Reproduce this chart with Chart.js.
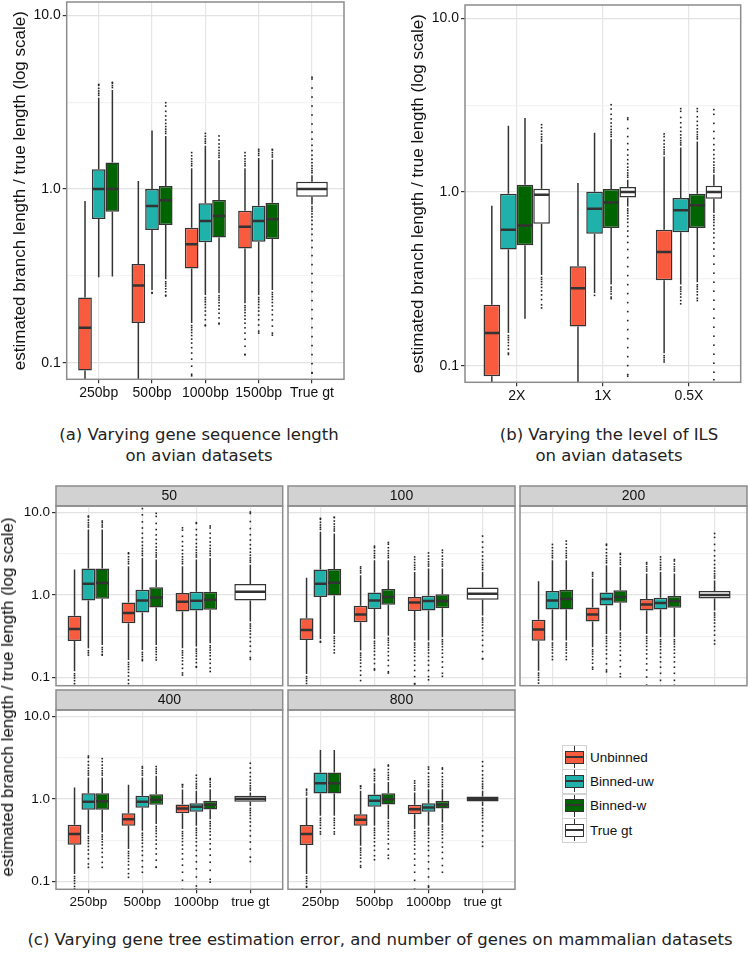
<!DOCTYPE html>
<html>
<head>
<meta charset="utf-8">
<script src="https://cdn.jsdelivr.net/npm/chart.js@4.4.1/dist/chart.umd.min.js"></script>
<style>
  html, body { margin: 0; padding: 0; background: #fff; }
  body { position: relative; width: 749px; height: 959px; overflow: hidden; font-family: 'Liberation Sans', Arial, sans-serif; }
  canvas { position: absolute; }
  .caption { position: absolute; font-family: 'DejaVu Sans', sans-serif; font-size: 16.5px; line-height: 21px; color: #222; text-align: center; white-space: nowrap; transform: translateX(-50%); }
  #ytitleC { position: absolute; left: 8px; top: 697px; font-size: 17px; line-height: 20px; color: #111; white-space: nowrap; transform: translate(-50%, -50%) rotate(-90deg); }
  .cell { position: absolute; left: 562px; width: 25px; height: 25px; box-sizing: border-box; border: 1.5px solid #d3d3d3; }
  .whisk { position: absolute; left: 10.5px; top: 0; width: 1.5px; height: 22px; background: #333; }
  .swatch { position: absolute; left: 1.5px; top: 4.5px; width: 19px; height: 13px; box-sizing: border-box; border: 1.5px solid #333; }
  .med { position: absolute; left: 0; right: 0; top: 4px; height: 2px; background: #333; }
  .lab { position: absolute; left: 590px; font-size: 13.5px; line-height: 16px; color: #111; white-space: nowrap; }
</style>
</head>
<body>
<canvas id="pa"></canvas>
<canvas id="pb"></canvas>
<canvas id="c50"></canvas>
<canvas id="c100"></canvas>
<canvas id="c200"></canvas>
<canvas id="c400"></canvas>
<canvas id="c800"></canvas>
<div class="caption" style="left:199px; top:424px;">(a) Varying gene sequence length<br>on avian datasets</div>
<div class="caption" style="left:609px; top:424px;">(b) Varying the level of ILS<br>on avian datasets</div>
<div class="caption" style="left:380px; top:929px;">(c) Varying gene tree estimation error, and number of genes on mammalian datasets</div>
<div id="ytitleC">estimated branch length / true length (log scale)</div>
<div id="legend"></div>
<script>
// Methods shown in every panel and their fill colours
const methods = ['Unbinned', 'Binned-uw', 'Binned-w', 'True gt'];
const methodColors = ['#F95B3F', '#20B2AA', '#006400', '#FFFFFF'];

const yTitle = 'estimated branch length / true length (log scale)';
const yTickValues = [0.1, 1, 10];
const yTickText = ['0.1', '1.0', '10.0'];
const yMinorValues = [0.3162, 3.162];

// Each box: [lower whisker, q1, median, q3, upper whisker, lowest outlier, highest outlier]

// (a) gene sequence length, avian
const catsA = ['250bp', '500bp', '1000bp', '1500bp', 'True gt'];
const aUnbinned = [
  [0.07, 0.090, 0.159, 0.237, 0.853, null, null],
  [0.07, 0.169, 0.278, 0.370, 1.11, null, null],
  [0.169, 0.348, 0.480, 0.599, 1.316, 0.084, 1.62],
  [0.220, 0.455, 0.607, 0.750, 1.316, 0.111, 1.62]
];
const aBinnedUw = [
  [0.310, 0.672, 1.00, 1.30, 3.35, null, 4.0],
  [0.262, 0.581, 0.798, 1.00, 2.17, 0.251, null],
  [0.245, 0.493, 0.654, 0.827, 1.775, 0.163, 2.09],
  [0.245, 0.497, 0.654, 0.800, 1.51, 0.148, 1.69]
];
const aBinnedW = [
  [0.313, 0.74, 1.00, 1.42, 3.71, null, 4.11],
  [0.302, 0.62, 0.861, 1.04, 2.02, 0.242, 3.14],
  [0.251, 0.525, 0.699, 0.864, 1.47, 0.167, 2.02],
  [0.262, 0.515, 0.669, 0.834, 1.48, 0.144, 1.69]
];
const aTrueGt = [[0.815, 0.903, 1.00, 1.10, 1.2, 0.087, 4.4]];

// (b) level of ILS, avian
const catsB = ['2X', '1X', '0.5X'];
const bUnbinned = [
  [0.075, 0.0868, 0.154, 0.2245, 0.834, null, null],
  [0.07, 0.168, 0.279, 0.373, 1.127, null, null],
  [0.118, 0.31, 0.451, 0.607, 1.60, 0.105, 2.16]
];
const bBinnedUw = [
  [0.154, 0.466, 0.607, 0.978, 2.41, 0.116, null],
  [0.262, 0.575, 0.80, 1.004, 2.19, 0.254, null],
  [0.293, 0.586, 0.784, 0.924, 1.806, 0.227, 3.02]
];
const bBinnedW = [
  [0.186, 0.493, 0.642, 1.10, 2.67, null, null],
  [0.293, 0.621, 0.871, 1.04, 2.02, 0.243, 3.18],
  [0.302, 0.621, 0.838, 0.978, 1.956, 0.237, 3.02]
];
const bTrueGt = [
  [0.333, 0.657, 0.965, 1.045, 1.897, 0.215, 2.44],
  [0.826, 0.931, 1.0, 1.07, 1.177, 0.087, 2.67],
  [0.757, 0.915, 1.0, 1.087, 1.26, 0.083, 2.98]
];

// (c) estimation error x number of genes, mammalian; outer index = facet
const catsC = ['250bp', '500bp', '1000bp', 'true gt'];
const facetsC = ['50', '100', '200', '400', '800'];
const cUnbinned = [
  [[0.12, 0.279, 0.39, 0.561, 2.03, 0.075, null], [0.164, 0.457, 0.605, 0.815, 2.23, 0.085, 3.24], [0.227, 0.634, 0.83, 1.06, 2.23, 0.108, 6.5]],
  [[0.111, 0.287, 0.379, 0.526, 1.62, 0.078, null], [0.213, 0.47, 0.582, 0.742, 1.73, 0.079, 2.19], [0.282, 0.64, 0.815, 0.946, 1.9, 0.084, 2.89]],
  [[0.122, 0.281, 0.383, 0.502, 1.47, 0.08, null], [0.234, 0.479, 0.582, 0.708, 1.58, 0.127, 1.87], [0.339, 0.651, 0.77, 0.894, 1.82, 0.08, 2.47]],
  [[0.123, 0.278, 0.375, 0.486, 1.37, 0.081, null], [0.247, 0.472, 0.568, 0.671, 1.48, 0.112, null], [0.43, 0.671, 0.764, 0.854, 1.3, 0.078, 1.49]],
  [[0.123, 0.276, 0.375, 0.481, 1.04, 0.085, 1.31], [0.271, 0.472, 0.558, 0.653, 1.25, 0.148, 1.43], [0.43, 0.653, 0.75, 0.846, 1.19, 0.08, 1.65]]
];
const cBinnedUw = [
  [[0.227, 0.861, 1.37, 2.09, 6.2, 0.188, 9.02], [0.217, 0.616, 0.861, 1.16, 2.81, 0.161, 11.1], [0.238, 0.651, 0.853, 1.1, 2.69, 0.134, 7.5]],
  [[0.295, 0.946, 1.37, 2.03, 5.82, 0.269, 8.45], [0.295, 0.676, 0.861, 1.077, 2.64, 0.124, 3.9], [0.282, 0.651, 0.845, 0.98, 2.09, 0.0945, 3.23]],
  [[0.282, 0.67, 0.861, 1.12, 2.64, 0.166, 4.09], [0.339, 0.749, 0.894, 1.077, 2.29, 0.118, 4.12], [0.309, 0.67, 0.80, 0.928, 1.9, 0.08, 2.89]],
  [[0.375, 0.736, 0.92, 1.17, 1.81, 0.148, 3.3], [0.411, 0.779, 0.92, 1.087, 1.81, 0.129, 2.46], [0.472, 0.697, 0.80, 0.887, 1.25, 0.081, 1.93]],
  [[0.623, 1.16, 1.55, 2.08, 3.9, 0.375, null], [0.472, 0.80, 0.946, 1.13, 1.55, 0.183, 2.28], [0.472, 0.697, 0.786, 0.887, 1.31, 0.085, 2.43]]
];
const cBinnedW = [
  [[0.249, 0.903, 1.40, 2.09, 6.2, 0.188, 7.85], [0.249, 0.708, 0.937, 1.24, 2.69, 0.164, 9.72], [0.261, 0.663, 0.878, 1.1, 2.81, 0.119, 6.83]],
  [[0.339, 0.99, 1.41, 2.07, 5.55, 0.20, 8.7], [0.323, 0.763, 0.946, 1.18, 2.64, 0.114, 4.32], [0.309, 0.695, 0.845, 1.02, 2.09, 0.104, 3.49]],
  [[0.282, 0.67, 0.894, 1.16, 2.64, 0.166, 4.49], [0.372, 0.807, 0.946, 1.14, 2.19, 0.103, 3.18], [0.309, 0.702, 0.845, 0.972, 1.82, 0.081, 2.69]],
  [[0.392, 0.736, 0.937, 1.17, 1.81, 0.148, 3.07], [0.495, 0.846, 0.973, 1.14, 1.9, 0.148, 2.46], [0.568, 0.743, 0.846, 0.946, 1.31, 0.098, 1.76]],
  [[0.623, 1.16, 1.55, 2.08, 3.9, 0.375, null], [0.568, 0.854, 0.99, 1.17, 1.6, 0.19, 2.57], [0.518, 0.764, 0.846, 0.946, 1.31, 0.129, 2.37]]
];
const cTrueGt = [
  [0.479, 0.861, 1.1, 1.36, 2.33, 0.167, 10.1],
  [0.566, 0.878, 1.04, 1.23, 1.9, 0.169, 5.16],
  [0.65, 0.91, 1.0, 1.12, 1.5, 0.256, 5.55],
  [0.82, 0.92, 1.0, 1.087, 1.19, 0.174, 2.7],
  [0.82, 0.929, 1.0, 1.067, 1.25, 0.266, 2.82]
];

const Y_MIN = 0.0802;
const Y_MAX = 11.93;
const FONT = "'Liberation Sans', Arial, sans-serif";
const BOX_FRAC = 0.77;

// Column of outlier dots, dense near the whisker and thinning out
function dotColumn(ctx, x, yStart, yEnd) {
  const dir = yEnd < yStart ? -1 : 1;
  let y = yStart + dir * 2.5;
  let gap = 2;
  while ((yEnd - y) * dir > 0) {
    ctx.fillRect(x - 0.8, y - 0.8, 1.6, 1.6);
    y += dir * gap;
    gap = Math.min(gap * 1.15, 9);
  }
  ctx.fillRect(x - 0.8, yEnd - 0.8, 1.6, 1.6);
}

// Whiskers, outliers and medians drawn around the floating bars
function drawParts(chart, layer) {
  const { ctx, chartArea: area } = chart;
  const yScale = chart.scales.y;
  const py = v => yScale.getPixelForValue(v);
  ctx.save();
  ctx.beginPath();
  ctx.rect(area.left, area.top, area.right - area.left, area.bottom - area.top);
  ctx.clip();
  chart.data.datasets.forEach((ds, di) => {
    const meta = chart.getDatasetMeta(di);
    meta.data.forEach((bar, i) => {
      const s = ds.stats[i];
      const { x, width } = bar.getProps(['x', 'width'], true);
      if (layer === 'back') {
        ctx.strokeStyle = '#333';
        ctx.lineWidth = 1.5;
        ctx.beginPath();
        ctx.moveTo(x, py(s[3]));
        ctx.lineTo(x, py(s[4]));
        ctx.moveTo(x, py(s[1]));
        ctx.lineTo(x, py(s[0]));
        ctx.stroke();
        ctx.fillStyle = '#222';
        if (s[6] != null) dotColumn(ctx, x, py(s[4]), py(s[6]));
        if (s[5] != null) dotColumn(ctx, x, py(s[0]), py(s[5]));
      } else {
        ctx.strokeStyle = '#333';
        ctx.lineWidth = 2.5;
        ctx.beginPath();
        ctx.moveTo(x - width / 2 + 0.75, py(s[2]));
        ctx.lineTo(x + width / 2 - 0.75, py(s[2]));
        ctx.stroke();
      }
    });
  });
  ctx.restore();
}

const boxPlugin = {
  id: 'boxParts',
  beforeDraw(chart) {
    // facet strip behind the title
    if (!chart.options.plugins.title.display) return;
    const { ctx, chartArea: a } = chart;
    ctx.save();
    ctx.fillStyle = '#d2d2d2';
    ctx.fillRect(a.left, a.top - 20, a.right - a.left, 20);
    ctx.strokeStyle = '#8c8c8c';
    ctx.lineWidth = 1.5;
    ctx.strokeRect(a.left, a.top - 20, a.right - a.left, 20);
    ctx.restore();
  },
  beforeDatasetsDraw(chart) { drawParts(chart, 'back'); },
  afterDatasetsDraw(chart) { drawParts(chart, 'front'); },
  afterDraw(chart) {
    const { ctx, chartArea: a } = chart;
    ctx.save();
    ctx.strokeStyle = '#8c8c8c';
    ctx.lineWidth = 1.5;
    ctx.strokeRect(a.left, a.top, a.right - a.left, a.bottom - a.top);
    ctx.restore();
  }
};

function boxDataset(label, color, boxes, xs, grouped) {
  return {
    label,
    data: boxes.map((b, i) => ({ x: xs[i], y: [b[1], b[3]] })),
    stats: boxes,
    backgroundColor: color,
    borderColor: '#333',
    borderWidth: 1.5,
    borderSkipped: false,
    grouped,
    categoryPercentage: BOX_FRAC,
    barPercentage: grouped ? 1 : BOX_FRAC
  };
}

function makePanel(p) {
  const cv = document.getElementById(p.id);
  cv.width = p.canvas.w;
  cv.height = p.canvas.h;
  cv.style.left = p.canvas.x + 'px';
  cv.style.top = p.canvas.y + 'px';
  cv.style.width = p.canvas.w + 'px';
  cv.style.height = p.canvas.h + 'px';

  const axisW = p.area.l - p.canvas.x;
  const axisH = p.canvas.y + p.canvas.h - p.area.b;
  const padRight = p.canvas.x + p.canvas.w - p.area.r;
  const padTop = p.area.t - p.canvas.y - (p.strip ? 20 : 0);
  const cats = p.cats;
  const isMajor = v => yTickValues.includes(v);

  new Chart(cv, {
    type: 'bar',
    data: { datasets: p.datasets },
    options: {
      responsive: false,
      animation: false,
      devicePixelRatio: 1,
      layout: { padding: { top: padTop, right: padRight, left: 0, bottom: 0 } },
      plugins: {
        legend: { display: false },
        tooltip: { enabled: false },
        title: p.strip ? {
          display: true, text: p.strip, fullSize: false, color: '#111',
          font: { family: FONT, size: 14, weight: 'normal', lineHeight: 1.2 },
          padding: { top: 2, bottom: 1.2 }
        } : { display: false }
      },
      scales: {
        x: {
          type: 'linear',
          offset: false,
          min: -0.6,
          max: cats.length - 0.4,
          afterBuildTicks: a => { a.ticks = cats.map((c, i) => ({ value: i })); },
          afterFit: a => { a.height = axisH; a.paddingLeft = 0; a.paddingRight = 0; },
          border: { display: false },
          grid: { offset: false, color: '#e6e6e6', lineWidth: 1.2, drawTicks: p.xLabels, tickLength: 4, tickColor: '#333', tickWidth: 1.2 },
          ticks: {
            display: p.xLabels, autoSkip: false, maxRotation: 0, minRotation: 0, padding: 1,
            color: '#111', font: { family: FONT, size: p.font },
            callback: (v, i) => cats[i]
          }
        },
        y: {
          type: 'logarithmic',
          min: Y_MIN,
          max: Y_MAX,
          afterBuildTicks: a => { a.ticks = [...yTickValues, ...yMinorValues].sort((m, n) => m - n).map(v => ({ value: v })); },
          afterFit: a => { a.width = axisW; a.paddingTop = 0; a.paddingBottom = 0; },
          border: { display: false },
          grid: {
            color: c => isMajor(c.tick.value) ? '#e3e3e3' : '#f3f3f3',
            lineWidth: 1.2,
            drawTicks: p.yLabels, tickLength: 4, tickWidth: 1.2,
            tickColor: c => isMajor(c.tick.value) ? '#333' : 'rgba(0,0,0,0)'
          },
          ticks: {
            display: p.yLabels, autoSkip: false, padding: 2,
            color: '#111', font: { family: FONT, size: p.font },
            callback: v => isMajor(v) ? yTickText[yTickValues.indexOf(v)] : ''
          },
          title: p.yTitle ? {
            display: true, text: yTitle, color: '#111',
            font: { family: FONT, size: 17, lineHeight: 1.2 },
            padding: { top: p.yTitle, bottom: 0 }
          } : { display: false }
        }
      }
    },
    plugins: [boxPlugin]
  });
}

// (a)
makePanel({
  id: 'pa', canvas: { x: 0, y: 0, w: 352, h: 410 }, area: { l: 66.7, t: 2, r: 344, b: 379.3 },
  cats: catsA, font: 14, xLabels: true, yLabels: true, yTitle: 10.3,
  datasets: [
    boxDataset(methods[0], methodColors[0], aUnbinned, [0, 1, 2, 3], true),
    boxDataset(methods[1], methodColors[1], aBinnedUw, [0, 1, 2, 3], true),
    boxDataset(methods[2], methodColors[2], aBinnedW, [0, 1, 2, 3], true),
    boxDataset(methods[3], methodColors[3], aTrueGt, [4], false)
  ]
});

// (b)
makePanel({
  id: 'pb', canvas: { x: 398, y: 0, w: 351, h: 410 }, area: { l: 465, t: 5, r: 740.7, b: 382.3 },
  cats: catsB, font: 14, xLabels: true, yLabels: true, yTitle: 10.6,
  datasets: [
    boxDataset(methods[0], methodColors[0], bUnbinned, [0, 1, 2], true),
    boxDataset(methods[1], methodColors[1], bBinnedUw, [0, 1, 2], true),
    boxDataset(methods[2], methodColors[2], bBinnedW, [0, 1, 2], true),
    boxDataset(methods[3], methodColors[3], bTrueGt, [0, 1, 2], true)
  ]
});

// (c) facets
const facetLayout = [
  { id: 'c50', canvas: { x: 0, y: 485, w: 286, h: 203 }, area: { l: 56, t: 506, r: 282.7, b: 685.7 }, xLabels: false, yLabels: true },
  { id: 'c100', canvas: { x: 286, y: 485, w: 231, h: 203 }, area: { l: 288, t: 506, r: 515, b: 685.7 }, xLabels: false, yLabels: false },
  { id: 'c200', canvas: { x: 518, y: 485, w: 231, h: 203 }, area: { l: 520, t: 506, r: 747, b: 685.7 }, xLabels: false, yLabels: false },
  { id: 'c400', canvas: { x: 0, y: 689, w: 286, h: 225 }, area: { l: 56, t: 710, r: 282.7, b: 889.3 }, xLabels: true, yLabels: true },
  { id: 'c800', canvas: { x: 286, y: 689, w: 231, h: 225 }, area: { l: 288, t: 710, r: 515, b: 889.3 }, xLabels: true, yLabels: false }
];
facetLayout.forEach((f, k) => {
  makePanel(Object.assign({}, f, {
    cats: catsC, font: 13.5, strip: facetsC[k], yTitle: 0,
    datasets: [
      boxDataset(methods[0], methodColors[0], cUnbinned[k], [0, 1, 2], true),
      boxDataset(methods[1], methodColors[1], cBinnedUw[k], [0, 1, 2], true),
      boxDataset(methods[2], methodColors[2], cBinnedW[k], [0, 1, 2], true),
      boxDataset(methods[3], methodColors[3], [cTrueGt[k]], [3], false)
    ]
  }));
});

// legend
const legend = document.getElementById('legend');
methods.forEach((m, i) => {
  const top = 745 + i * 24.4;
  const cell = document.createElement('div');
  cell.className = 'cell';
  cell.style.top = top + 'px';
  cell.innerHTML = '<div class="whisk"></div><div class="swatch" style="background:' + methodColors[i] + '"><div class="med"></div></div>';
  legend.appendChild(cell);
  const lab = document.createElement('div');
  lab.className = 'lab';
  lab.style.top = (top + 4.5) + 'px';
  lab.textContent = m;
  legend.appendChild(lab);
});
</script>
</body>
</html>
